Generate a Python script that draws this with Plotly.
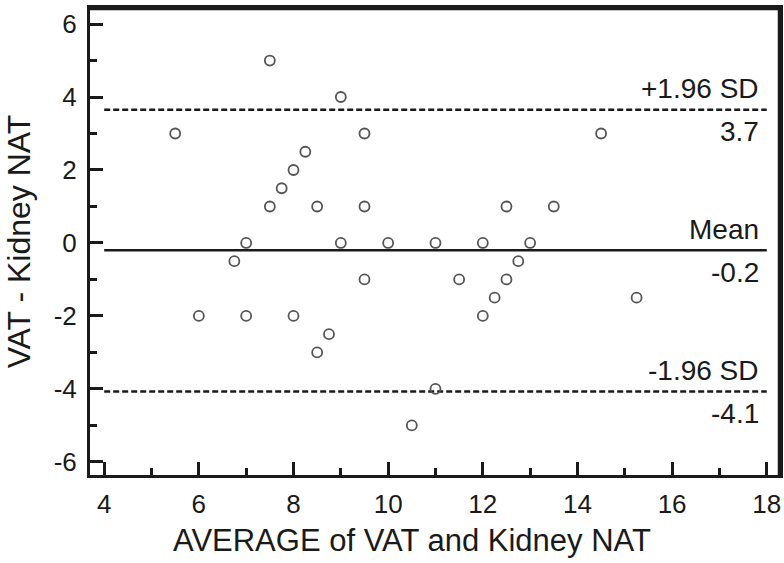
import plotly.graph_objects as go

# Data (Bland-Altman points)
avg_vals = [5.5, 6, 6.75, 7, 7, 7.5, 7.5, 7.75, 8, 8, 8.25, 8.5, 8.5, 8.75,
            9, 9, 9.5, 9.5, 9.5, 10, 10.5, 11, 11, 11.5, 12, 12, 12.25,
            12.5, 12.5, 12.75, 13, 13.5, 14.5, 15.25]
diff_vals = [3, -2, -0.5, 0, -2, 5, 1, 1.5, 2, -2, 2.5, 1, -3, -2.5,
             4, 0, 3, 1, -1, 0, -5, 0, -4, -1, 0, -2, -1.5,
             1, -1, -0.5, 0, 1, 3, -1.5]

line_names = ["+1.96 SD", "Mean", "-1.96 SD"]
line_values = [3.65, -0.2, -4.07]
line_labels = ["3.7", "-0.2", "-4.1"]
line_dash = ["6px,3px", "solid", "6px,3px"]
line_x = [4, 18]

x_ticks = [4, 6, 8, 10, 12, 14, 16, 18]
x_tick_text = ["4", "6", "8", "10", "12", "14", "16", "18"]
y_ticks = [-6, -4, -2, 0, 2, 4, 6]
y_tick_text = ["-6", "-4", "-2", "0", "2", "4", "6"]

x_title = "AVERAGE of VAT and Kidney NAT"
y_title = "VAT - Kidney NAT"

FONT = "Liberation Sans, Arial, sans-serif"
INK = "#1a1a1a"

fig = go.Figure()

for name, val, dash in zip(line_names, line_values, line_dash):
    fig.add_trace(go.Scatter(
        x=line_x, y=[val, val], mode="lines",
        line=dict(color=INK, width=2.5, dash=dash),
        showlegend=False, hoverinfo="skip"))

fig.add_trace(go.Scatter(
    x=avg_vals, y=diff_vals, mode="markers",
    marker=dict(symbol="circle-open", size=10, color="#555555",
                line=dict(width=1.8, color="#555555")),
    showlegend=False))

for name, val, lab in zip(line_names, line_values, line_labels):
    fig.add_annotation(x=line_x[1], y=val, xref="x", yref="y", text=name,
                       showarrow=False, xanchor="right", yanchor="middle",
                       xshift=-6, yshift=21, font=dict(family=FONT, size=28, color=INK))
    fig.add_annotation(x=line_x[1], y=val, xref="x", yref="y", text=lab,
                       showarrow=False, xanchor="right", yanchor="middle",
                       xshift=-6, yshift=-22, font=dict(family=FONT, size=28, color=INK))

# x-axis title (slightly left of the plot centre, as in the reference)
fig.add_annotation(x=0.467, y=-0.141, xref="paper", yref="paper", text=x_title,
                   showarrow=False, xanchor="center", yanchor="middle",
                   font=dict(family=FONT, size=31, color=INK))

# heavier top and right frame lines
fig.add_shape(type="line", xref="paper", yref="paper", x0=0, x1=1, y0=1, y1=1,
              line=dict(color=INK, width=4.5), layer="above")
fig.add_shape(type="line", xref="paper", yref="paper", x0=1, x1=1, y0=0, y1=1,
              line=dict(color=INK, width=4.5), layer="above")

axis_common = dict(
    showgrid=False, zeroline=False, showline=True, linecolor=INK, linewidth=3,
    mirror=True, ticks="inside", ticklen=13, tickwidth=3, tickcolor=INK,
    tickfont=dict(family=FONT, size=26, color=INK), automargin=False,
)

fig.update_xaxes(
    range=[3.70, 18.28], tickmode="array", tickvals=x_ticks, ticktext=x_tick_text,
    ticklabelstandoff=4,
    minor=dict(ticks="inside", ticklen=7, tickwidth=2.5, tickcolor=INK, dtick=1, tick0=4),
    **axis_common)
fig.update_yaxes(
    range=[-6.36, 6.44], tickmode="array", tickvals=y_ticks, ticktext=y_tick_text,
    ticklabelstandoff=5,
    minor=dict(ticks="inside", ticklen=7, tickwidth=2.5, tickcolor=INK, dtick=1, tick0=0),
    title=dict(text=y_title, font=dict(family=FONT, size=32, color=INK), standoff=14),
    **axis_common)

fig.update_layout(
    width=784, height=563,
    margin=dict(l=90, r=4, t=8, b=88),
    plot_bgcolor="white", paper_bgcolor="white",
    font=dict(family=FONT, color=INK),
)

fig.write_html("out.html", config={"displayModeBar": False},
               post_script="document.body.style.margin='0';")
